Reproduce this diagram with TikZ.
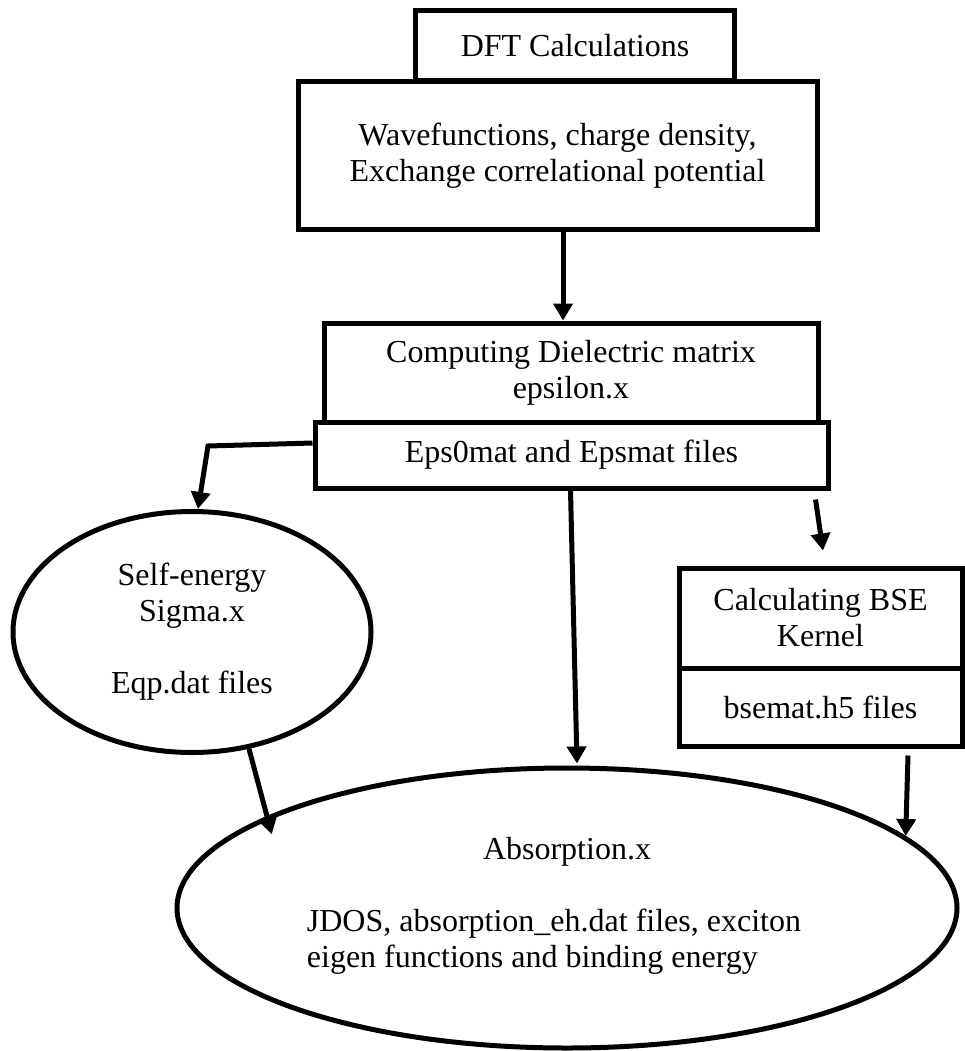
\documentclass[tikz,border=0pt]{standalone}
\usepackage{fontspec}
\setmainfont{Liberation Serif}
\usetikzlibrary{shapes.geometric,arrows.meta}

\begin{document}
\begin{tikzpicture}[x=1pt, y=-1pt, line width=5pt,
	every node/.style={font=\fontsize{32}{36}\selectfont, align=center, inner sep=0pt},
	box/.style={draw, rectangle, line join=miter},
	blob/.style={draw, ellipse},
	flow/.style={-{Triangle[width=19pt,length=17pt]}, line join=miter}]
	\useasboundingbox (0,0) rectangle (964,1051);

	%ground state input
	\node[box, minimum width=319pt, minimum height=70pt] (dft) at (575,46) {DFT Calculations};
	\node[box, minimum width=519pt, minimum height=147pt] (wave) at (557.5,155.5) {Wavefunctions, charge density,\\Exchange correlational potential};

	%dielectric step
	\node[box, minimum width=494pt, minimum height=99pt] (comp) at (571,372.5) {Computing Dielectric matrix\\epsilon.x};
	\node[box, minimum width=513pt, minimum height=66pt] (epsfiles) at (571.5,455) {Eps0mat and Epsmat files};

	%self-energy and kernel
	\node[blob, minimum width=358pt, minimum height=241pt] (sigma) at (192,632) {Self-energy\\Sigma.x\\[36pt]Eqp.dat files};
	\node[box, minimum width=283pt, minimum height=100pt] (bse) at (820.5,618) {Calculating BSE\\Kernel};
	\node[box, minimum width=283pt, minimum height=78pt] (bsefiles) at (820.5,707) {bsemat.h5 files};

	%absorption
	\node[blob, minimum width=780pt, minimum height=280pt] (absorp) at (567,908) {Absorption.x\\[36pt]\hspace*{-26pt}\begin{tabular}[t]{@{}l@{}}JDOS, absorption\_eh.dat files, exciton\\eigen functions and binding energy\end{tabular}};

	%arrows
	\coordinate (elbow) at (208,446);
	\draw[flow] ([xshift=5.5pt]wave.south) -- ([xshift=-8pt]comp.north);
	\draw[flow] ([yshift=12pt]epsfiles.west) -- (elbow) -- ([xshift=6pt]sigma.north);
	\draw[flow] ([xshift=-1pt]epsfiles.south) -- ([xshift=10pt,yshift=2pt]absorp.north);
	\draw[flow] ([shift={(-15pt,-9pt)}]epsfiles.south east) -- ([shift={(2.5pt,15pt)}]bse.north);
	\draw[flow] (sigma.-64) -- ([shift={(5pt,-18pt)}]absorp.163);
	\draw[flow] ([shift={(87.5pt,-7pt)}]bsefiles.south) -- (absorp.12.6);
\end{tikzpicture}
\end{document}
